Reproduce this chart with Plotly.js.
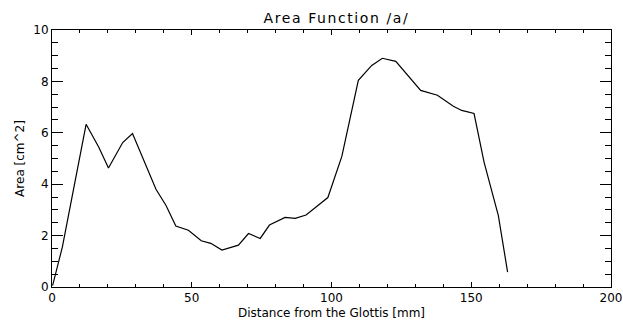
<!DOCTYPE html>
<html>
<head>
<meta charset="utf-8">
<script src="https://cdn.plot.ly/plotly-3.0.1.min.js"></script>
<style>html,body{margin:0;padding:0;background:#fff;}#chart{width:623px;height:322px;}
#chart .gtitle{letter-spacing:1.6px;}
</style>
</head>
<body>
<div id="chart"></div>
<script>
// Distance from the glottis [mm]
const distance = [0.2, 3.7, 12.2, 16.7, 20.2, 25.3, 28.8, 37.2, 40.8, 44.3, 48.8, 53.4, 56.8, 60.8, 66.7, 70.3, 74.5, 77.8, 83.4, 87.0, 90.9, 98.7, 103.7, 109.6, 114.4, 118.2, 123.0, 131.9, 137.9, 143.6, 146.6, 151.0, 154.6, 159.7, 163.0];
// Area [cm^2]
const area = [0.05, 1.55, 6.33, 5.45, 4.63, 5.62, 5.97, 3.80, 3.17, 2.37, 2.21, 1.80, 1.70, 1.44, 1.63, 2.08, 1.89, 2.41, 2.71, 2.67, 2.80, 3.48, 5.08, 8.04, 8.62, 8.90, 8.78, 7.65, 7.46, 7.03, 6.87, 6.75, 4.85, 2.78, 0.58];

const titleText = 'Area Function /a/';
const xTitle = 'Distance from the Glottis [mm]';
const yTitle = 'Area [cm^2]';

const font = {family: 'DejaVu Sans, Liberation Sans, sans-serif', color: '#000'};

Plotly.newPlot('chart', [{
  x: distance, y: area, type: 'scatter', mode: 'lines',
  line: {color: '#000', width: 1.2}, hoverinfo: 'none'
}], {
  width: 623, height: 322,
  margin: {l: 52, r: 12, t: 30, b: 35},
  paper_bgcolor: '#fff', plot_bgcolor: '#fff',
  showlegend: false,
  font: Object.assign({size: 12}, font),
  title: {text: titleText, x: 0.54, xanchor: 'center', y: 0.945, yanchor: 'middle',
          font: Object.assign({size: 14}, font)},
  xaxis: {
    range: [0, 200], dtick: 50, tick0: 0,
    ticks: 'inside', ticklen: 5, tickwidth: 1, tickcolor: '#000',
    minor: {dtick: 10, ticks: 'inside', ticklen: 3, tickcolor: '#000', tickwidth: 1},
    showline: true, linecolor: '#000', linewidth: 1, mirror: 'ticks',
    showgrid: false, zeroline: false,
    tickfont: Object.assign({size: 12}, font),
    title: {text: xTitle, font: Object.assign({size: 12}, font), standoff: 4}
  },
  yaxis: {
    range: [0, 10], dtick: 2, tick0: 0,
    ticks: 'inside', ticklen: 11, tickwidth: 1, tickcolor: '#000',
    minor: {dtick: 0.5, ticks: 'inside', ticklen: 6, tickcolor: '#000', tickwidth: 1},
    showline: true, linecolor: '#000', linewidth: 1, mirror: 'ticks',
    showgrid: false, zeroline: false,
    tickfont: Object.assign({size: 12}, font),
    title: {text: yTitle, font: Object.assign({size: 12}, font), standoff: 6}
  }
}, {staticPlot: true, displayModeBar: false});
</script>
</body>
</html>
